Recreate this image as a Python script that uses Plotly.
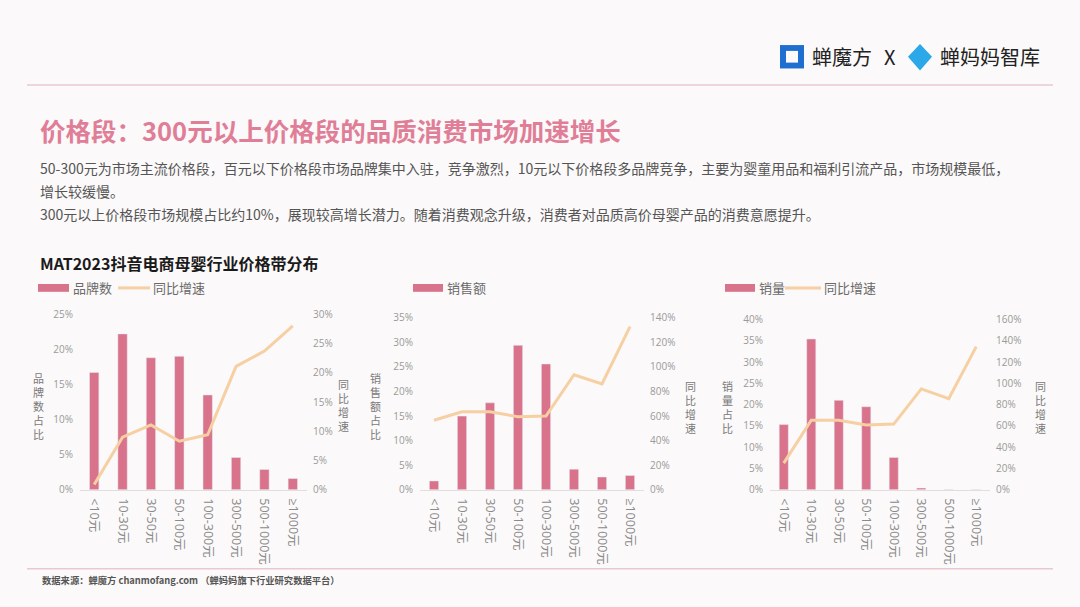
import plotly.graph_objects as go
from plotly.subplots import make_subplots

categories = ["<10元", "10-30元", "30-50元", "50-100元", "100-300元", "300-500元", "500-1000元", "≥1000元"]

brand_share = [16.7, 22.2, 18.8, 19.0, 13.5, 4.6, 2.9, 1.6]
brand_growth = [0.9, 9.0, 11.1, 8.3, 9.4, 21.1, 23.7, 28.0]

sales_share = [1.8, 15.0, 17.7, 29.4, 25.6, 4.2, 2.6, 2.9]
sales_growth = [56.6, 63.5, 63.5, 59.5, 60.0, 93.7, 86.2, 132.8]

volume_share = [15.3, 35.4, 21.0, 19.5, 7.6, 0.4, 0.05, 0.05]
volume_growth = [25.0, 65.3, 65.3, 60.8, 61.7, 94.7, 85.5, 134.4]

left_ranges = [[0, 25], [0, 35], [0, 40]]
left_dticks = [5, 5, 5]
right_ranges = [[0, 30], [0, 140], [0, 160]]
right_dticks = [5, 20, 20]

BAR = "#D9728B"
LINE = "#F6CFA3"
FONT = "Noto Sans CJK SC"
TICKFONT = "Open Sans, Noto Sans CJK SC"
W, H = 1080, 607

fig = make_subplots(rows=1, cols=3, specs=[[{"secondary_y": True}] * 3])

series = [(brand_share, brand_growth), (sales_share, sales_growth), (volume_share, volume_growth)]
for i, (b, g) in enumerate(series):
    fig.add_trace(go.Bar(x=categories, y=b, marker_color=BAR, width=0.33, showlegend=False),
                  row=1, col=i + 1, secondary_y=False)
    fig.add_trace(go.Scatter(x=categories, y=g, mode="lines", line=dict(color=LINE, width=3),
                             showlegend=False),
                  row=1, col=i + 1, secondary_y=True)

xdomains = [(80, 307), (420, 644), (770, 990)]
ytops = [314, 317.7, 319.3]
ybottom = 494

def px(x):
    return x / W

def py(y):
    return 1 - y / H

for i in range(3):
    xa = "xaxis" if i == 0 else f"xaxis{i+1}"
    fig.layout[xa].update(domain=[px(xdomains[i][0]), px(xdomains[i][1])],
                          tickangle=90, tickfont=dict(size=12.5, color="#8a8a8a", family=TICKFONT),
                          showline=True, linecolor="#e2dede", linewidth=1, showgrid=False,
                          ticks="", zeroline=False, ticklabelstandoff=5)
    yl = f"yaxis{2*i+1}" if i > 0 else "yaxis"
    yr = f"yaxis{2*i+2}"
    dom = [py(ybottom), py(ytops[i])]
    fig.layout[yl].update(domain=dom, range=left_ranges[i], dtick=left_dticks[i], ticksuffix="%",
                          showgrid=False, zeroline=False, showline=False,
                          tickfont=dict(size=10, color="#9a9a9a", family=TICKFONT), ticklabelstandoff=6)
    fig.layout[yr].update(domain=dom, range=right_ranges[i], dtick=right_dticks[i], ticksuffix="%",
                          showgrid=False, zeroline=False, showline=False,
                          tickfont=dict(size=10, color="#9a9a9a", family=TICKFONT), ticklabelstandoff=5)

shapes = []
annotations = []

def vtitle(s, x, yc, step=14.4, size=11):
    n = len(s)
    y0 = yc - step * (n - 1) / 2
    for k, ch in enumerate(s):
        annotations.append(dict(x=px(x), y=py(y0 + k * step), xref="paper", yref="paper", text=ch,
                                showarrow=False, font=dict(size=size, color="#7a7a7a", family=FONT),
                                xanchor="center", yanchor="middle", borderpad=0))

vtitle("品牌数占比", 39, 408)
vtitle("同比增速", 343, 407)
vtitle("销售额占比", 375, 408)
vtitle("同比增速", 690, 409)
vtitle("销量占比", 727, 409)
vtitle("同比增速", 1040, 409)

# legends
def leg_rect(x0, x1, y=287):
    shapes.append(dict(type="rect", xref="paper", yref="paper", x0=px(x0), x1=px(x1),
                       y0=py(y + 4), y1=py(y - 4), fillcolor=BAR, line=dict(width=0)))

def leg_line(x0, x1, y=287):
    shapes.append(dict(type="line", xref="paper", yref="paper", x0=px(x0), x1=px(x1),
                       y0=py(y), y1=py(y), line=dict(color=LINE, width=3)))

def leg_text(x, t, y=287):
    annotations.append(dict(x=px(x), y=py(y), xref="paper", yref="paper", text=t, showarrow=False,
                            xanchor="left", yanchor="middle",
                            font=dict(size=13, color="#6a6a6a", family=FONT)))

leg_rect(38, 69); leg_text(71, "品牌数"); leg_line(118, 150); leg_text(151, "同比增速")
leg_rect(413, 443); leg_text(445, "销售额")
leg_rect(725, 755); leg_text(757, "销量"); leg_line(785, 821); leg_text(822, "同比增速")

# header / footer lines
shapes.append(dict(type="line", xref="paper", yref="paper", x0=px(27), x1=px(1053), y0=py(79), y1=py(79),
                   line=dict(color="#e9c9d1", width=1.5)))
shapes.append(dict(type="line", xref="paper", yref="paper", x0=px(27), x1=px(1053), y0=py(575), y1=py(575),
                   line=dict(color="#e9c9d1", width=1.5)))

# logo icons
shapes.append(dict(type="rect", xref="paper", yref="paper", x0=px(780), x1=px(804), y0=py(62), y1=py(38),
                   fillcolor="#1f6fd1", line=dict(width=0)))
shapes.append(dict(type="rect", xref="paper", yref="paper", x0=px(786), x1=px(798), y0=py(56), y1=py(44),
                   fillcolor="#FBF9F9", line=dict(width=0)))
shapes.append(dict(type="path", xref="paper", yref="paper",
                   path=f"M {px(920)} {py(37)} L {px(932)} {py(50)} L {px(920)} {py(64)} L {px(908)} {py(50)} Z",
                   fillcolor="#2aa8e8", line=dict(width=0)))
annotations.append(dict(x=px(810), y=py(50), xref="paper", yref="paper", text="蝉魔方", showarrow=False,
                        xanchor="left", yanchor="middle", font=dict(size=20, color="#222", family=FONT)))
annotations.append(dict(x=px(890), y=py(50), xref="paper", yref="paper", text="X", showarrow=False,
                        xanchor="center", yanchor="middle", font=dict(size=20, color="#222", family=FONT)))
annotations.append(dict(x=px(938), y=py(50), xref="paper", yref="paper", text="蝉妈妈智库", showarrow=False,
                        xanchor="left", yanchor="middle", font=dict(size=20, color="#222", family=FONT)))

# title and paragraph
annotations.append(dict(x=px(38), y=py(125), xref="paper", yref="paper",
                        text="<b>价格段：300元以上价格段的品质消费市场加速增长</b>", showarrow=False,
                        xanchor="left", yanchor="middle", font=dict(size=25.5, color="#E07E98", family=FONT)))
para = [
    ("50-300元为市场主流价格段，百元以下价格段市场品牌集中入驻，竞争激烈，10元以下价格段多品牌竞争，主要为婴童用品和福利引流产品，市场规模最低，", 164),
    ("增长较缓慢。", 188),
    ("300元以上价格段市场规模占比约10%，展现较高增长潜力。随着消费观念升级，消费者对品质高价母婴产品的消费意愿提升。", 211),
]
for t, y in para:
    annotations.append(dict(x=px(38), y=py(y), xref="paper", yref="paper", text=t, showarrow=False,
                            xanchor="left", yanchor="middle", font=dict(size=14, color="#555555", family=FONT)))

annotations.append(dict(x=px(38), y=py(261), xref="paper", yref="paper",
                        text="<b>MAT2023抖音电商母婴行业价格带分布</b>", showarrow=False,
                        xanchor="left", yanchor="middle", font=dict(size=16, color="#1a1a1a", family=FONT)))

annotations.append(dict(x=px(40), y=py(586), xref="paper", yref="paper",
                        text="<b>数据来源：蝉魔方 chanmofang.com （蝉妈妈旗下行业研究数据平台）</b>", showarrow=False,
                        xanchor="left", yanchor="middle", font=dict(size=9.3, color="#555555", family=FONT)))

fig.update_layout(width=W, height=H, margin=dict(l=0, r=0, t=0, b=0),
                  paper_bgcolor="#FBF9F9", plot_bgcolor="rgba(0,0,0,0)",
                  shapes=shapes, annotations=annotations, showlegend=False, bargap=0.67,
                  font=dict(family=FONT))

fig.write_html("out.html", config={"displayModeBar": False},
               post_script="document.body.style.margin='0px';document.body.style.overflow='hidden';")
